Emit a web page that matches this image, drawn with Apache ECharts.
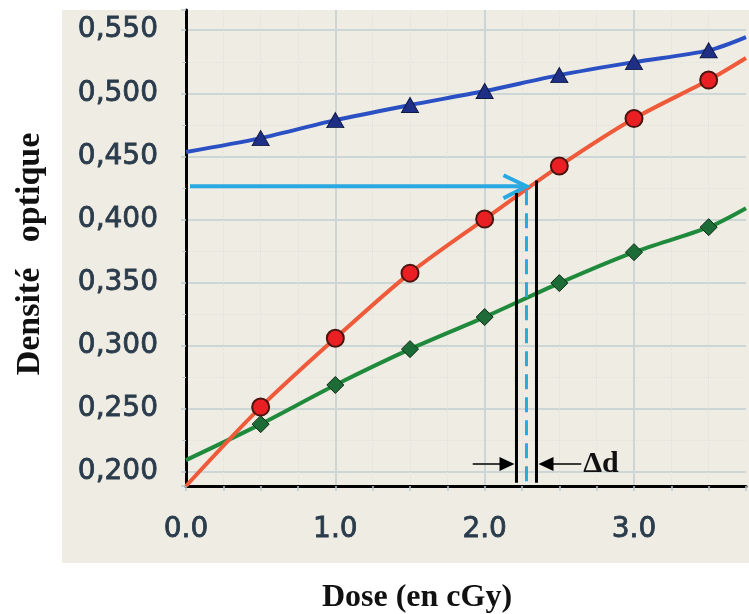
<!DOCTYPE html>
<html><head><meta charset="utf-8">
<script src="https://cdn.jsdelivr.net/npm/echarts@6/dist/echarts.min.js"></script>
<style>html,body{margin:0;padding:0;background:#fff}#c{width:749px;height:614px}</style>
</head><body><div id="c"></div>
<script>
// ---- data ----
const doses        = [0, 0.5, 1.0, 1.5, 2.0, 2.5, 3.0, 3.5, 3.75];
const blueValues   = [0.4535, 0.4645, 0.4788, 0.4907, 0.5018, 0.5144, 0.5247, 0.5340, 0.5445];
const redValues    = [0.189, 0.2515, 0.306, 0.3576, 0.4004, 0.4424, 0.4800, 0.5105, 0.528];
const greenValues  = [0.2095, 0.238, 0.269, 0.2974, 0.3228, 0.3497, 0.3742, 0.3940, 0.409];
const markedDoses  = [0.5, 1.0, 1.5, 2.0, 2.5, 3.0, 3.5];
const xTickLabels  = ['0.0', '1.0', '2.0', '3.0'];
const yTickLabels  = ['0,200', '0,250', '0,300', '0,350', '0,400', '0,450', '0,500', '0,550'];
const xRange = [0, 3.75];
const yRange = [0.189, 0.566];
// annotation values
const readDensity = 0.4264;
const readDose = 2.28;
const doseLow = 2.213, doseHigh = 2.347;
const lowTop = 0.421, highTop = 0.431;
const lineBottom = 0.1915;
const deltaLevel = 0.2064;
const deltaArrowStarts = [1.92, 2.647];
const xTitle = 'Dose (en cGy)';
const yTitle = 'Densité   optique';
const deltaLabel = 'Δd';

function mkData(vals) {
  return doses.map((d, i) => ({
    value: [d, vals[i]],
    symbol: markedDoses.includes(d) ? undefined : 'none'
  }));
}

const chart = echarts.init(document.getElementById('c'), null, {renderer: 'canvas'});
const labelColor = '#2a3b4b';
const gridColor = '#cdd6d7';

const option = {
  backgroundColor: '#ffffff',
  animation: false,
  grid: {left: 186, right: 0, top: 10, bottom: 128, containLabel: false},
  xAxis: {
    type: 'value', min: xRange[0], max: xRange[1], splitNumber: 4,
    axisLine: {show: true, onZero: false, lineStyle: {color: '#000', width: 3}},
    axisTick: {show: true, length: 5, lineStyle: {color: '#b8c8cc', width: 1.5}},
    minorTick: {show: true, splitNumber: 4, length: 5, lineStyle: {color: '#b8c8cc', width: 1.5}},
    axisLabel: {
      margin: 30, color: labelColor, fontFamily: 'DejaVu Sans', fontSize: 28,
      textBorderColor: labelColor, textBorderWidth: 0.8,
      formatter: v => { const i = Math.round(v); return (Math.abs(v - i) < 1e-6 && i < xTickLabels.length) ? xTickLabels[i] : ''; }
    },
    splitLine: {show: true, showMinLine: false, showMaxLine: false, lineStyle: {color: gridColor, width: 2}},
    minorSplitLine: {show: true, lineStyle: {color: '#e0e2dc', width: 1, type: 'dotted'}}
  },
  yAxis: {
    type: 'value', min: yRange[0], max: yRange[1], splitNumber: 7,
    axisLine: {show: true, onZero: false, lineStyle: {color: '#000', width: 3}},
    axisTick: {show: true, length: 5, lineStyle: {color: '#b8c8cc', width: 1.5}},
    minorTick: {show: true, splitNumber: 2, length: 4, lineStyle: {color: '#b8c8cc', width: 1}},
    axisLabel: {
      margin: 28, color: labelColor, fontFamily: 'DejaVu Sans', fontSize: 28,
      textBorderColor: labelColor, textBorderWidth: 0.8,
      formatter: v => { const i = Math.round((v - 0.2) / 0.05); return (Math.abs(v - (0.2 + i * 0.05)) < 1e-6 && i >= 0 && i < yTickLabels.length) ? yTickLabels[i] : ''; }
    },
    splitLine: {show: true, showMinLine: false, showMaxLine: false, lineStyle: {color: gridColor, width: 2}},
    minorSplitLine: {show: true, lineStyle: {color: '#e0e2dc', width: 1, type: 'dotted'}}
  },
  series: [
    {
      type: 'line', data: mkData(blueValues), smooth: 0.3, clip: true,
      symbol: 'triangle', symbolSize: [17, 15],
      lineStyle: {color: '#2a50c4', width: 4},
      itemStyle: {color: '#1f2f86', borderColor: '#101a40', borderWidth: 1}, z: 3
    },
    {
      type: 'line', data: mkData(redValues), smooth: 0.3, clip: true,
      symbol: 'circle', symbolSize: 17,
      lineStyle: {color: '#ef5a3a', width: 4},
      itemStyle: {color: '#ea1f24', borderColor: '#4a1410', borderWidth: 2}, z: 4
    },
    {
      type: 'line', data: mkData(greenValues), smooth: 0.3, clip: true,
      symbol: 'diamond', symbolSize: [17, 17],
      lineStyle: {color: '#1f8a3c', width: 4},
      itemStyle: {color: '#1d6b36', borderColor: '#0d2c16', borderWidth: 1}, z: 3
    }
  ],
  graphic: {elements: [
    {type: 'rect', z: -10, silent: true, shape: {x: 62, y: 10, width: 687, height: 553}, style: {fill: '#efece4'}},
  ]}
};
chart.setOption(option);

const P = (x, y) => chart.convertToPixel({gridIndex: 0}, [x, y]);
const tip = P(readDose, readDensity);
const axisStart = P(xRange[0], readDensity);
const blue = '#2aa8e2';
const els = [];
els.push({type: 'line', z: 100, shape: {x1: axisStart[0] + 4, y1: tip[1], x2: tip[0] - 2, y2: tip[1]}, style: {stroke: blue, lineWidth: 4}});
els.push({type: 'polyline', z: 100, shape: {points: [[tip[0] - 23, tip[1] - 11], [tip[0], tip[1]], [tip[0] - 23, tip[1] + 12]]}, style: {stroke: blue, lineWidth: 4, fill: null}});
const dashBottom = P(readDose, yRange[0]);
els.push({type: 'line', z: 100, shape: {x1: tip[0], y1: tip[1] + 4, x2: tip[0], y2: dashBottom[1] - 2}, style: {stroke: blue, lineWidth: 3, lineDash: [15, 8]}});
const lt = P(doseLow, lowTop), lb = P(doseLow, lineBottom);
const ht = P(doseHigh, highTop), hb = P(doseHigh, lineBottom);
els.push({type: 'line', z: 101, shape: {x1: lt[0], y1: lt[1], x2: lb[0], y2: lb[1]}, style: {stroke: '#000', lineWidth: 3}});
els.push({type: 'line', z: 101, shape: {x1: ht[0], y1: ht[1], x2: hb[0], y2: hb[1]}, style: {stroke: '#000', lineWidth: 3}});
const la = P(deltaArrowStarts[0], deltaLevel), lTip = P(doseLow, deltaLevel);
const ra = P(deltaArrowStarts[1], deltaLevel), rTip = P(doseHigh, deltaLevel);
els.push({type: 'line', z: 101, shape: {x1: la[0], y1: la[1], x2: lTip[0] - 10, y2: lTip[1]}, style: {stroke: '#000', lineWidth: 1.5}});
els.push({type: 'polygon', z: 101, shape: {points: [[lTip[0] - 2, lTip[1]], [lTip[0] - 17, lTip[1] - 7], [lTip[0] - 17, lTip[1] + 7]]}, style: {fill: '#000'}});
els.push({type: 'line', z: 101, shape: {x1: ra[0], y1: ra[1], x2: rTip[0] + 10, y2: rTip[1]}, style: {stroke: '#000', lineWidth: 1.5}});
els.push({type: 'polygon', z: 101, shape: {points: [[rTip[0] + 2, rTip[1]], [rTip[0] + 17, rTip[1] - 7], [rTip[0] + 17, rTip[1] + 7]]}, style: {fill: '#000'}});
els.push({type: 'text', z: 101, x: ra[0] + 2, y: ra[1], style: {text: deltaLabel, fill: '#111', font: 'bold 30px "Liberation Serif", serif', textVerticalAlign: 'middle', textAlign: 'left'}});
// titles
els.push({type: 'text', z: 101, x: 417, y: 598, style: {text: xTitle, fill: '#111', font: 'bold 32px "Liberation Serif", serif', textAlign: 'center', textVerticalAlign: 'middle'}});
els.push({type: 'text', z: 101, x: 30, y: 254, rotation: Math.PI / 2, style: {text: yTitle, fill: '#111', font: 'bold 34px "Liberation Serif", serif', textAlign: 'center', textVerticalAlign: 'middle'}});
option.graphic.elements = option.graphic.elements.concat(els);
chart.setOption({graphic: option.graphic});
</script></body></html>
